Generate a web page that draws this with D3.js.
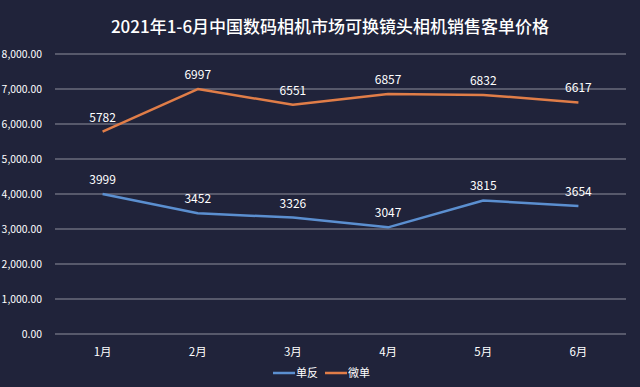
<!DOCTYPE html>
<html>
<head>
<meta charset="utf-8">
<script src="https://cdn.jsdelivr.net/npm/d3@7"></script>
<style>
  html, body { margin: 0; padding: 0; background: #20233a; }
  svg { display: block; font-family: "Noto Sans CJK SC", "Noto Sans", sans-serif; }
</style>
</head>
<body>
<div id="chart"></div>
<script>
var months = ["1月", "2月", "3月", "4月", "5月", "6月"];
var dslr = [3999, 3452, 3326, 3047, 3815, 3654];
var mirrorless = [5782, 6997, 6551, 6857, 6832, 6617];
var yTicks = [0, 1000, 2000, 3000, 4000, 5000, 6000, 7000, 8000];
var seriesNames = ["单反", "微单"];
var seriesColors = ["#5b8fd0", "#e07d48"];

var width = 640, height = 387;
var svg = d3.select("#chart").append("svg")
  .attr("width", width)
  .attr("height", height);

svg.append("rect").attr("width", width).attr("height", height).attr("fill", "#20233a");

var x = d3.scaleBand().domain(months).range([55, 626]);
var y = d3.scaleLinear().domain([0, 8000]).range([334, 54]);

svg.append("text")
  .attr("x", 330).attr("y", 33)
  .attr("text-anchor", "middle")
  .attr("fill", "#ffffff")
  .attr("font-size", 17)
  .attr("font-weight", 500)
  .text("2021年1-6月中国数码相机市场可换镜头相机销售客单价格");

// grid + y labels
var yAxis = svg.append("g");
yAxis.selectAll("line").data(yTicks).enter().append("line")
  .attr("x1", 55).attr("x2", 626)
  .attr("y1", function(d) { return y(d); })
  .attr("y2", function(d) { return y(d); })
  .attr("stroke", "#8e909c")
  .attr("stroke-width", 1.2);
yAxis.selectAll("text").data(yTicks).enter().append("text")
  .attr("x", 42)
  .attr("y", function(d) { return y(d) + 4; })
  .attr("text-anchor", "end")
  .attr("fill", "#ffffff")
  .attr("font-size", 10.4)
  .text(function(d) { return d3.format(",.2f")(d); });

// x labels
svg.append("g").selectAll("text").data(months).enter().append("text")
  .attr("x", function(d) { return x(d) + x.bandwidth() / 2; })
  .attr("y", 356)
  .attr("text-anchor", "middle")
  .attr("fill", "#ffffff")
  .attr("font-size", 11.5)
  .text(function(d) { return d; });

var line = d3.line()
  .x(function(d, i) { return x(months[i]) + x.bandwidth() / 2; })
  .y(function(d) { return y(d); });

[dslr, mirrorless].forEach(function(values, s) {
  svg.append("path")
    .datum(values)
    .attr("d", line)
    .attr("fill", "none")
    .attr("stroke", seriesColors[s])
    .attr("stroke-width", 2.5)
    .attr("stroke-linejoin", "round");

  svg.append("g").selectAll("text").data(values).enter().append("text")
    .attr("x", function(d, i) { return x(months[i]) + x.bandwidth() / 2; })
    .attr("y", function(d) { return y(d) - 10; })
    .attr("text-anchor", "middle")
    .attr("fill", "#ffffff")
    .attr("font-size", 12)
    .text(function(d) { return d; });
});

// legend
var legend = svg.append("g");
var legendX = [273, 325];
seriesNames.forEach(function(name, s) {
  legend.append("line")
    .attr("x1", legendX[s]).attr("x2", legendX[s] + 22)
    .attr("y1", 373).attr("y2", 373)
    .attr("stroke", seriesColors[s])
    .attr("stroke-width", 2.5);
  legend.append("text")
    .attr("x", legendX[s] + 23).attr("y", 377)
    .attr("fill", "#ffffff")
    .attr("font-size", 11)
    .text(name);
});
</script>
</body>
</html>
